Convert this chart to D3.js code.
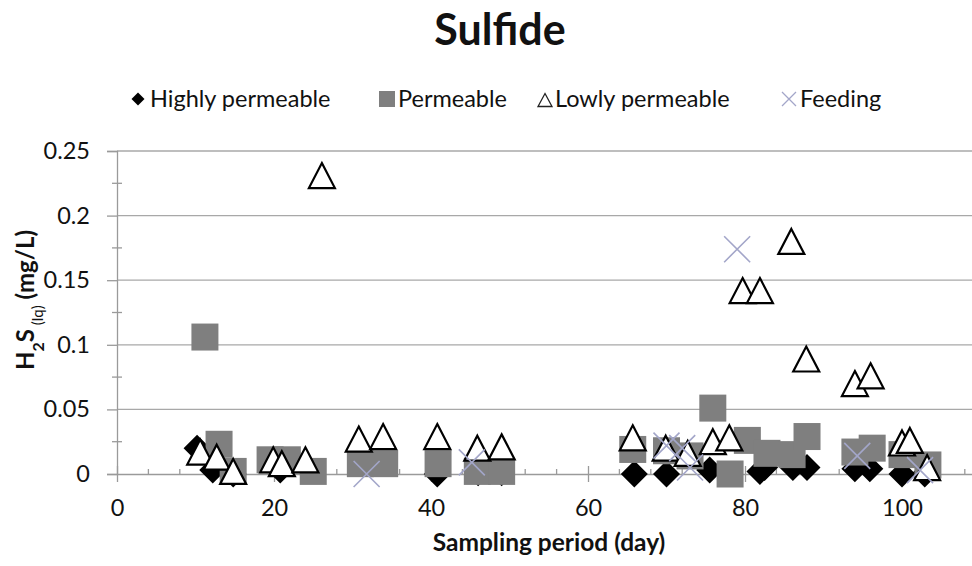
<!DOCTYPE html>
<html>
<head>
<meta charset="utf-8">
<script src="https://cdn.jsdelivr.net/npm/d3@7"></script>
<style>
  body { margin: 0; background: #fff; }
  svg { display: block; }
  text { font-family: Lato, "Open Sans", sans-serif; fill: #111; }
</style>
</head>
<body>
<svg id="chart" width="972" height="566"></svg>
<script>
// Sulfide (H2S, liquid phase) measured over the sampling period
const highlyDays = [10.2, 12.2, 14.8, 20.8, 40.8, 46, 49, 65.9, 70, 75.5, 81.9, 82.5, 86.1, 87.9, 94, 95.9, 100, 102.9];
const highlyH2S  = [0.020, 0.003, 0, 0.003, 0, 0.001, 0.001, 0, 0, 0.003, 0.002, 0.005, 0.005, 0.005, 0.004, 0.004, 0, 0];

const permDays = [11.2, 13.0, 14.8, 19.5, 21.7, 25, 31, 34.1, 40.9, 45.9, 49, 65.7, 70, 73, 75.9, 80.3, 78.1, 82.8, 86, 87.9, 94, 96.2, 100, 103.3];
const permH2S  = [0.106, 0.023, 0.002, 0.011, 0.011, 0.002, 0.008, 0.008, 0.008, 0.002, 0.002, 0.019, 0.018, 0.014, 0.051, 0.026, 0, 0.016, 0.015, 0.029, 0.017, 0.020, 0.015, 0.007];

const lowDays = [10.6, 12.7, 14.8, 19.9, 21, 24, 26.1, 30.8, 33.9, 40.8, 45.9, 49, 65.7, 69.9, 72.7, 75.9, 78, 79.7, 81.9, 85.9, 87.8, 94, 96, 100, 101, 103.2];
const lowH2S  = [0.017, 0.013, 0.002, 0.011, 0.008, 0.011, 0.231, 0.027, 0.029, 0.029, 0.020, 0.021, 0.028, 0.020, 0.016, 0.025, 0.028, 0.142, 0.142, 0.180, 0.089, 0.070, 0.076, 0.024, 0.026, 0.005];

const feedDays = [31.8, 45.2, 70, 72, 73, 79, 94.3, 102.3];
const feedH2S  = [0, 0.009, 0.022, 0.020, 0.005, 0.174, 0.014, 0.003];

const seriesNames = ["Highly permeable", "Permeable", "Lowly permeable", "Feeding"];
const xTickValues = [0, 20, 40, 60, 80, 100];
const yTickValues = [0, 0.05, 0.1, 0.15, 0.2, 0.25];

const svg = d3.select("#chart");
const plotLeft = 117, plotBottom = 474, plotTop = 151;
const x = d3.scaleLinear().domain([0, 110]).range([plotLeft, plotLeft + 110 * 7.85]);
const y = d3.scaleLinear().domain([0, 0.25]).range([plotBottom, plotTop]);

const axisColor = "#9a9a9a";
const gridColor = "#a8a8a8";
const feedColor = "#a3a6c9";

// horizontal gridlines
svg.append("g").selectAll("line")
  .data(yTickValues.filter(v => v > 0))
  .join("line")
  .attr("x1", plotLeft).attr("x2", 972)
  .attr("y1", d => y(d)).attr("y2", d => y(d))
  .attr("stroke", gridColor).attr("stroke-width", 1.3);

// y axis: major ticks outside, minor ticks crossing
const yAxis = svg.append("g").attr("transform", `translate(${plotLeft},0)`)
  .call(d3.axisLeft(y).tickValues(yTickValues).tickSize(10).tickFormat(d3.format("~g")).tickPadding(17));
yAxis.select(".domain").attr("stroke", axisColor).attr("stroke-width", 1.3);
yAxis.selectAll(".tick line").attr("stroke", axisColor).attr("stroke-width", 1.3);
yAxis.selectAll(".tick text").style("font-size", "23.5px").attr("fill", "#222");
const yMinor = d3.range(0.025, 0.25, 0.05);
svg.append("g").selectAll("line").data(yMinor).join("line")
  .attr("x1", plotLeft - 5).attr("x2", plotLeft + 5)
  .attr("y1", d => y(d)).attr("y2", d => y(d))
  .attr("stroke", axisColor).attr("stroke-width", 1.3);

// x axis
const xAxis = svg.append("g").attr("transform", `translate(0,${plotBottom})`)
  .call(d3.axisBottom(x).tickValues(xTickValues).tickSize(8).tickPadding(17).tickSizeOuter(0));
xAxis.select(".domain").attr("stroke", axisColor).attr("stroke-width", 1.3);
xAxis.selectAll(".tick line").attr("stroke", axisColor).attr("stroke-width", 1.3).attr("y1", -8);
xAxis.selectAll(".tick text").style("font-size", "23.5px").attr("fill", "#222");
const xMinor = d3.range(4, 110, 4).filter(d => d % 20 !== 0);
svg.append("g").selectAll("line").data(xMinor).join("line")
  .attr("x1", d => x(d)).attr("x2", d => x(d))
  .attr("y1", plotBottom - 5).attr("y2", plotBottom)
  .attr("stroke", axisColor).attr("stroke-width", 1.3);

// marker shapes
const diamondPath = r => `M0,${-r}L${r},0L0,${r}L${-r},0Z`;
const squarePath = r => `M${-r},${-r}H${r}V${r}H${-r}Z`;
const trianglePath = (w, h) => `M0,${-h / 2}L${w / 2},${h / 2}L${-w / 2},${h / 2}Z`;
const crossPath = r => `M${-r},${-r}L${r},${r}M${r},${-r}L${-r},${r}`;

function plot(days, vals, path, fill, stroke, sw) {
  svg.append("g").selectAll("path")
    .data(days.map((d, i) => [d, vals[i]]))
    .join("path")
    .attr("transform", d => `translate(${x(d[0])},${y(d[1])})`)
    .attr("d", path)
    .attr("fill", fill)
    .attr("stroke", stroke)
    .attr("stroke-width", sw)
    .attr("stroke-linejoin", "miter");
}

plot(highlyDays, highlyH2S, diamondPath(13.5), "#000", "none", 0);
plot(permDays, permH2S, squarePath(13.5), "#7f7f7f", "none", 0);
plot(lowDays, lowH2S, trianglePath(26, 25), "#fff", "#000", 2.2);
plot(feedDays, feedH2S, crossPath(13), "none", feedColor, 1.6);

// legend
const legendY = 99;
const legend = svg.append("g");
legend.append("path").attr("transform", `translate(138,${legendY})`).attr("d", diamondPath(6.5)).attr("fill", "#000");
legend.append("path").attr("transform", `translate(387,${legendY})`).attr("d", squarePath(8)).attr("fill", "#7f7f7f");
legend.append("path").attr("transform", `translate(545,${legendY + 1})`).attr("d", trianglePath(14, 13)).attr("fill", "#fff").attr("stroke", "#222").attr("stroke-width", 1.3);
legend.append("path").attr("transform", `translate(789,${legendY})`).attr("d", crossPath(7)).attr("fill", "none").attr("stroke", feedColor).attr("stroke-width", 1.3);
const legendX = [150, 398, 555, 800];
legend.selectAll("text").data(seriesNames).join("text")
  .attr("x", (d, i) => legendX[i]).attr("y", legendY + 8)
  .style("font-size", "23.5px").attr("fill", "#222")
  .text(d => d);

// title
svg.append("text").attr("x", 500).attr("y", 45).attr("text-anchor", "middle")
  .style("font-size", "43px").style("font-weight", "bold").text("Sulfide");

// axis titles
svg.append("text").attr("x", 549).attr("y", 551).attr("text-anchor", "middle")
  .style("font-size", "24.5px").style("font-weight", "bold").text("Sampling period (day)");

const yTitle = svg.append("text")
  .attr("transform", "translate(34,300) rotate(-90)")
  .attr("text-anchor", "middle")
  .style("font-size", "24px").style("font-weight", "bold");
yTitle.append("tspan").text("H");
yTitle.append("tspan").attr("baseline-shift", "sub").style("font-size", "16px").text("2");
yTitle.append("tspan").text("S");
yTitle.append("tspan").attr("baseline-shift", "sub").style("font-size", "15px").style("font-weight", "normal").text(" (lq)");
yTitle.append("tspan").text(" (mg/L)");
</script>
</body>
</html>
